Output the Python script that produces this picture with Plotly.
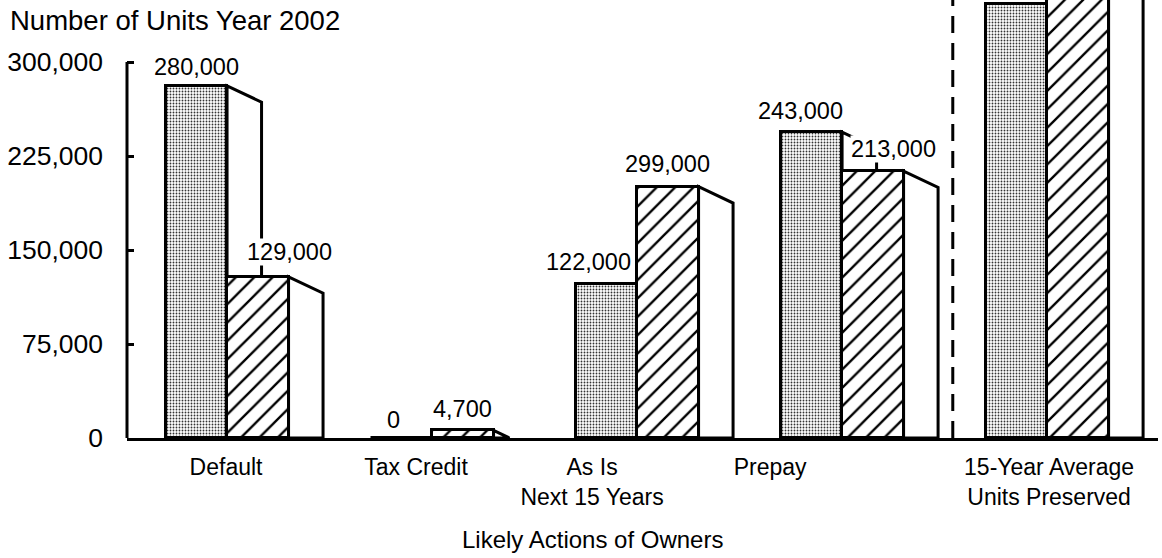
import plotly.graph_objects as go

# ---------------- data ----------------
categories = ["Default", "Tax Credit", "As Is<br>Next 15 Years", "Prepay",
              "15-Year Average<br>Units Preserved"]
stippled_values = [281000, 0, 123000, 244000, 346000]
hatched_values = [128500, 6000, 200500, 213000, 370000]
stippled_labels = ["280,000", "0", "122,000", "243,000", ""]
hatched_labels = ["129,000", "4,700", "299,000", "213,000", ""]
y_tick_values = [0, 75000, 150000, 225000, 300000]
y_tick_labels = ["0", "75,000", "150,000", "225,000", "300,000"]
y_title = "Number of Units Year 2002"
x_title = "Likely Actions of Owners"

# ---------------- layout / style ----------------
W, H = 1162, 558
M_L, M_R, M_T, M_B = 127, 4, 0, 120
X_RANGE = [-0.488, 4.541]
Y_RANGE = [0, 349500]
BAR_W = 0.30
FONT = "Liberation Sans, Arial, Helvetica, sans-serif"
plot_w = W - M_L - M_R
plot_h = H - M_T - M_B
px_x = plot_w / (X_RANGE[1] - X_RANGE[0])
px_y = plot_h / (Y_RANGE[1] - Y_RANGE[0])
SHADOW_DX = 34.5 / px_x
SHADOW_DY = 16.3 / px_y
SEPARATOR_X = 3.54
cat_label_shift_px = [-1, -16, -45, -72, 2]
stip_label_dx = [0, -8, -18, -11, 0]
stip_label_gap = [11, 10, 14, 13, 0]
hatch_label_dx = [32, 0, 0, 21, 0]
hatch_label_gap = [17, 13, 15, 14, 0]
DESCENT = 6

xs = list(range(len(categories)))

fig = go.Figure()
fig.add_trace(go.Bar(
    x=xs, y=stippled_values, width=BAR_W, offset=-BAR_W,
    marker=dict(color="white", line=dict(color="black", width=3),
                pattern=dict(shape=".", fgcolor="#333333", bgcolor="white",
                             size=3, solidity=0.3, fillmode="replace")),
    showlegend=False, hoverinfo="skip"))
fig.add_trace(go.Bar(
    x=xs, y=hatched_values, width=BAR_W, offset=0,
    marker=dict(color="white", line=dict(color="black", width=3),
                pattern=dict(shape="/", fgcolor="black", bgcolor="white",
                             size=13, solidity=0.18, fillmode="replace")),
    showlegend=False, hoverinfo="skip"))

shapes = []
# white "side" faces behind the bars
for series_vals, off in ((stippled_values, 0.0), (hatched_values, BAR_W)):
    for i, v in zip(xs, series_vals):
        if v <= 0:
            continue
        xr = i + off
        if v >= SHADOW_DY:
            path = (f"M{xr},0 L{xr},{v} L{xr + SHADOW_DX},{v - SHADOW_DY} "
                    f"L{xr + SHADOW_DX},0 Z")
        else:
            path = f"M{xr},0 L{xr},{v} L{xr + SHADOW_DX * v / SHADOW_DY},0 Z"
        shapes.append(dict(type="path", path=path, xref="x", yref="y",
                           fillcolor="white", line=dict(color="black", width=3),
                           layer="below"))
# dashed separator
shapes.append(dict(type="line", xref="x", yref="paper", x0=SEPARATOR_X, x1=SEPARATOR_X,
                   y0=0, y1=1, line=dict(color="black", width=3, dash="17px,10px")))
# y axis line (0 .. 300,000)
shapes.append(dict(type="line", xref="paper", yref="y", x0=0, x1=0,
                   y0=y_tick_values[0], y1=y_tick_values[-1],
                   line=dict(color="black", width=3)))

annotations = []
for i in xs:
    if stippled_labels[i]:
        annotations.append(dict(x=i - BAR_W / 2, y=stippled_values[i], xref="x", yref="y",
                                text=stippled_labels[i], showarrow=False,
                                xanchor="center", yanchor="bottom",
                                xshift=stip_label_dx[i], yshift=stip_label_gap[i] - DESCENT,
                                bgcolor="white", borderpad=0,
                                font=dict(size=23.5, color="black", family=FONT)))
    if hatched_labels[i]:
        annotations.append(dict(x=i + BAR_W / 2, y=hatched_values[i], xref="x", yref="y",
                                text=hatched_labels[i], showarrow=False,
                                xanchor="center", yanchor="bottom",
                                xshift=hatch_label_dx[i], yshift=hatch_label_gap[i] - DESCENT,
                                bgcolor="white", borderpad=0,
                                font=dict(size=23.5, color="black", family=FONT)))
annotations.append(dict(x=(8 - M_L) / plot_w, y=1 - 21 / plot_h, xref="paper", yref="paper",
                        text=y_title, showarrow=False, xanchor="left", yanchor="middle",
                        font=dict(size=27.5, color="black", family=FONT)))
annotations.append(dict(x=(592 - M_L) / plot_w, y=-(539 - plot_h) / plot_h,
                        xref="paper", yref="paper",
                        text=x_title, showarrow=False, xanchor="center", yanchor="middle",
                        font=dict(size=24, color="black", family=FONT)))

fig.update_layout(
    width=W, height=H,
    margin=dict(l=M_L, r=M_R, t=M_T, b=M_B, pad=0),
    paper_bgcolor="white", plot_bgcolor="white",
    barmode="overlay", bargap=0,
    shapes=shapes, annotations=annotations,
    font=dict(family=FONT, color="black"),
    xaxis=dict(range=X_RANGE, showgrid=False, zeroline=False,
               showline=True, linecolor="black", linewidth=3,
               tickmode="array",
               tickvals=[i + s / px_x for i, s in zip(xs, cat_label_shift_px)],
               ticktext=categories, ticks="", ticklabelstandoff=6,
               tickfont=dict(size=23, color="black", family=FONT)),
    yaxis=dict(range=Y_RANGE, showgrid=False, zeroline=False, showline=False,
               tickmode="array", tickvals=y_tick_values, ticktext=y_tick_labels,
               ticks="inside", ticklen=7, tickwidth=2.5, tickcolor="black",
               ticklabelstandoff=23,
               tickfont=dict(size=26.5, color="black", family=FONT)),
)

fig.write_html("out.html")
